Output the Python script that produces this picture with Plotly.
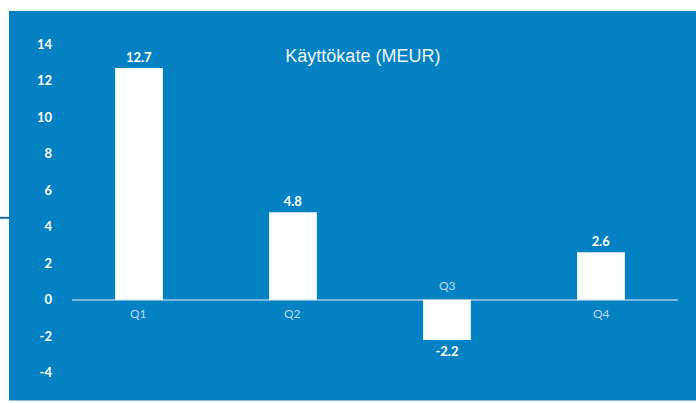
import plotly.graph_objects as go

categories = ["Q1", "Q2", "Q3", "Q4"]
values = [12.7, 4.8, -2.2, 2.6]
value_labels = ["12.7", "4.8", "-2.2", "2.6"]
y_ticks = [-4, -2, 0, 2, 4, 6, 8, 10, 12, 14]
y_tick_text = ["-4", "-2", "0", "2", "4", "6", "8", "10", "12", "14"]

BLUE = "#0481c3"

fig = go.Figure()
fig.add_trace(go.Bar(
    x=categories, y=values,
    marker=dict(color="white", line=dict(width=0)),
    text=value_labels, textposition="outside", cliponaxis=False,
    textfont=dict(family="Lato", size=13, color="white", weight="bold"),
    width=0.31, hoverinfo="skip",
))

# category labels on the opposite side of the zero line from the bar
for c, v in zip(categories, values):
    fig.add_annotation(
        x=c, y=0, text=c, showarrow=False,
        yanchor="top" if v >= 0 else "bottom",
        yshift=-4 if v >= 0 else 5,
        font=dict(family="Lato", size=12, color="#bcd9ee"),
    )

fig.update_layout(
    width=696, height=403,
    margin=dict(l=72, r=18, t=26, b=12),
    paper_bgcolor="white",
    plot_bgcolor="rgba(0,0,0,0)",
    showlegend=False,
    title=dict(text="Käyttökate (MEUR)", x=0.48, xref="paper", y=1 - 56 / 403,
               xanchor="center", yanchor="middle",
               font=dict(family="Liberation Sans", size=18, color="#eef5fb")),
    shapes=[
        dict(type="rect", xref="paper", yref="paper", layer="below",
             x0=(9 - 72) / 606, x1=(700 - 72) / 606,
             y0=(391.4 - 401) / 365.4, y1=(391.4 - 11) / 365.4,
             fillcolor=BLUE, line=dict(width=0)),
        dict(type="line", xref="paper", yref="paper", layer="below",
             x0=(0 - 72) / 606, x1=(9 - 72) / 606,
             y0=(391.4 - 218) / 365.4, y1=(391.4 - 218) / 365.4,
             line=dict(color="#1f66a3", width=2)),
    ],
)
fig.update_xaxes(range=[-0.435, 3.5], showticklabels=False, showgrid=False,
                 zeroline=False, showline=False)
fig.update_yaxes(range=[-5, 15], tickvals=y_ticks, ticktext=y_tick_text,
                 showgrid=False,
                 zeroline=True, zerolinecolor="#7cb6dc", zerolinewidth=2,
                 ticklabelstandoff=19,
                 tickfont=dict(family="Lato", size=13, color="white", weight="bold"))

fig.write_html("out.html", config={"displayModeBar": False},
               post_script="document.body.style.margin='0';")
